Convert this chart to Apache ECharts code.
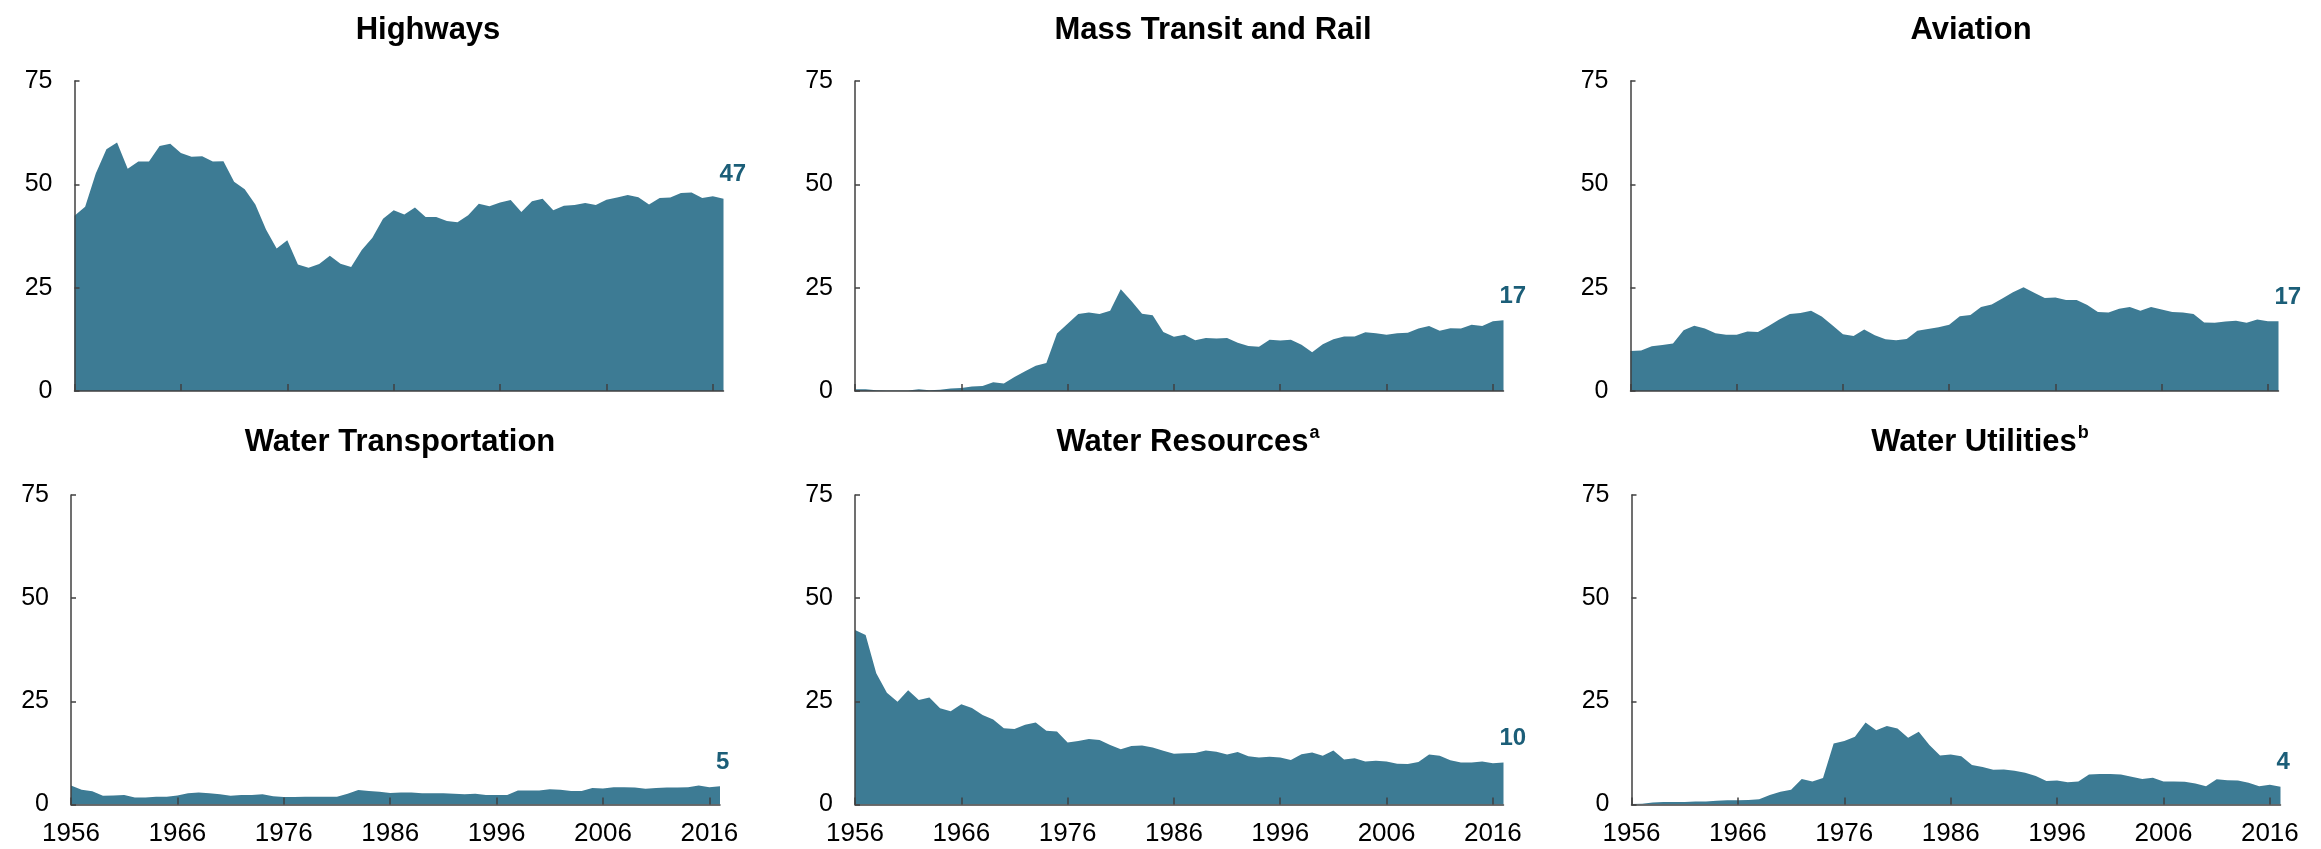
<!DOCTYPE html>
<html>
<head>
<meta charset="utf-8">
<script src="https://cdn.jsdelivr.net/npm/echarts@6/dist/echarts.min.js"></script>
<style>
  html, body { margin: 0; padding: 0; background: #fff; }
  #chart { width: 2321px; height: 849px; }
</style>
</head>
<body>
<div id="chart"></div>
<script>
// years on the x axis, 1956 .. 2017
const years = []
for (let y = 1956; y <= 2017; y++) years.push(String(y))

const highways = [42.4, 44.6, 52.6, 58.5, 60.1, 53.8, 55.5, 55.5, 59.3, 59.8,
  57.6, 56.7, 56.8, 55.5, 55.6, 50.6, 48.8, 45.1, 39.1, 34.5,
  36.5, 30.6, 29.8, 30.7, 32.7, 30.8, 30.0, 34.1, 37.1, 41.7,
  43.7, 42.7, 44.4, 42.1, 42.1, 41.1, 40.8, 42.5, 45.3, 44.7,
  45.6, 46.2, 43.3, 45.9, 46.5, 43.7, 44.8, 45.0, 45.5, 45.0,
  46.3, 46.8, 47.4, 46.9, 45.1, 46.7, 46.8, 47.9, 48.0, 46.7,
  47.1, 46.5]

const massTransit = [0.4, 0.4, 0.2, 0.1, 0.1, 0.1, 0.4, 0.2, 0.3, 0.6,
  0.7, 1.1, 1.2, 2.1, 1.8, 3.4, 4.8, 6.1, 6.8, 13.9,
  16.3, 18.6, 19.0, 18.6, 19.4, 24.6, 21.8, 18.7, 18.3, 14.3,
  13.1, 13.6, 12.3, 12.8, 12.7, 12.8, 11.7, 10.9, 10.7, 12.4,
  12.2, 12.4, 11.2, 9.4, 11.3, 12.5, 13.2, 13.2, 14.2, 14.0,
  13.6, 14.0, 14.1, 15.1, 15.7, 14.6, 15.2, 15.1, 16.0, 15.7,
  16.9, 17.1]

const aviation = [9.7, 9.8, 10.8, 11.1, 11.5, 14.7, 15.8, 15.1, 14.0, 13.6,
  13.6, 14.4, 14.3, 15.7, 17.3, 18.6, 18.9, 19.4, 18.0, 15.9,
  13.7, 13.3, 14.9, 13.5, 12.5, 12.3, 12.6, 14.6, 15.0, 15.4,
  16.0, 18.1, 18.4, 20.3, 20.9, 22.4, 23.9, 25.1, 23.8, 22.5,
  22.6, 22.0, 22.0, 20.8, 19.1, 19.0, 19.9, 20.3, 19.4, 20.3,
  19.7, 19.1, 19.0, 18.6, 16.6, 16.5, 16.8, 17.0, 16.5, 17.3,
  16.9, 16.9]

const waterTransport = [4.6, 3.6, 3.2, 2.1, 2.2, 2.3, 1.7, 1.7, 1.9, 1.9,
  2.2, 2.7, 2.9, 2.7, 2.5, 2.1, 2.3, 2.3, 2.5, 2.0,
  1.8, 1.8, 1.9, 1.9, 1.9, 1.9, 2.6, 3.5, 3.3, 3.1,
  2.8, 2.9, 2.9, 2.7, 2.7, 2.7, 2.6, 2.5, 2.6, 2.3,
  2.3, 2.3, 3.4, 3.4, 3.4, 3.7, 3.6, 3.3, 3.3, 4.0,
  3.9, 4.2, 4.2, 4.1, 3.8, 4.0, 4.1, 4.1, 4.2, 4.6,
  4.2, 4.4]

const waterResources = [42.3, 41.1, 31.8, 27.1, 24.9, 27.7, 25.3, 25.9, 23.3, 22.6,
  24.3, 23.4, 21.7, 20.6, 18.5, 18.3, 19.3, 19.9, 17.9, 17.7,
  15.0, 15.4, 15.9, 15.6, 14.4, 13.4, 14.2, 14.3, 13.8, 13.0,
  12.3, 12.4, 12.5, 13.1, 12.8, 12.1, 12.7, 11.7, 11.4, 11.6,
  11.4, 10.8, 12.2, 12.6, 11.8, 13.1, 10.9, 11.2, 10.4, 10.6,
  10.4, 9.9, 9.8, 10.3, 12.1, 11.8, 10.7, 10.2, 10.2, 10.4,
  10.0, 10.2]

const waterUtilities = [0.1, 0.2, 0.5, 0.6, 0.6, 0.6, 0.7, 0.7, 0.9, 1.0,
  1.0, 1.1, 1.3, 2.3, 3.1, 3.6, 6.2, 5.6, 6.4, 14.8,
  15.4, 16.4, 19.9, 18.0, 19.0, 18.4, 16.2, 17.6, 14.4, 11.9,
  12.1, 11.7, 9.6, 9.1, 8.4, 8.5, 8.2, 7.7, 6.9, 5.7,
  5.8, 5.4, 5.6, 7.3, 7.4, 7.4, 7.3, 6.7, 6.2, 6.5,
  5.6, 5.6, 5.5, 5.1, 4.4, 6.1, 5.9, 5.8, 5.3, 4.4,
  4.8, 4.3]

const titles = ['{t|Highways}', '{t|Mass Transit and Rail}', '{t|Aviation}',
  '{t|Water Transportation}', '{t|Water Resources}{sup|a}', '{t|Water Utilities}{sup|b}']
const endLabels = ['47', '17', '17', '5', '10', '4']
const allSeries = [highways, massTransit, aviation, waterTransport, waterResources, waterUtilities]

// panel boxes: [left, top, width, height, titleCenterX, titleTop]
const panels = [
  [74.5, 81, 649, 310, 423, 7],
  [855, 81, 648.5, 310, 1208, 7],
  [1630.5, 81, 648, 310, 1966, 7],
  [71, 495, 649, 309.5, 395, 419],
  [855, 495, 648.5, 309.5, 1183, 419],
  [1631.5, 495, 649, 309.5, 1975, 419]
]

const FONT = "'Liberation Sans', Arial, sans-serif"
const AREA = '#3d7b94'
const AXIS = '#404040'
const LABEL = '#1b5e78'

const chart = echarts.init(document.getElementById('chart'))

const grid = [], xAxis = [], yAxis = [], series = [], title = []
panels.forEach((p, i) => {
  grid.push({ left: p[0], top: p[1], width: p[2], height: p[3], containLabel: false })
  title.push({
    text: titles[i],
    left: p[4],
    top: p[5],
    textAlign: 'center',
    textStyle: {
      rich: {
        t: { fontFamily: FONT, fontSize: 31, fontWeight: 'bold', color: '#000', lineHeight: 36 },
        sup: { fontFamily: FONT, fontSize: 18, fontWeight: 'bold', color: '#000', verticalAlign: 'top', lineHeight: 36, padding: [0, 0, 0, 1] }
      }
    }
  })
  xAxis.push({
    type: 'category',
    gridIndex: i,
    data: years,
    boundaryGap: false,
    z: 5,
    axisLine: { show: true, lineStyle: { color: AXIS, width: 1.5 } },
    axisTick: {
      show: true, inside: true, length: 7,
      interval: (idx) => idx % 10 === 0,
      lineStyle: { color: AXIS, width: 1.5 }
    },
    axisLabel: {
      show: i >= 3,
      interval: (idx) => idx % 10 === 0,
      fontFamily: FONT, fontSize: 26, color: '#000', margin: 16
    },
    splitLine: { show: false }
  })
  yAxis.push({
    type: 'value',
    gridIndex: i,
    min: 0, max: 75, interval: 25,
    z: 5,
    axisLine: { show: true, lineStyle: { color: AXIS, width: 1.5 } },
    axisTick: { show: true, inside: true, length: 5, lineStyle: { color: AXIS, width: 1.5 } },
    axisLabel: { fontFamily: FONT, fontSize: 25, color: '#000', margin: 22 },
    splitLine: { show: false }
  })
  const vals = allSeries[i]
  const data = vals.map((v, k) => k === vals.length - 1
    ? {
        value: v,
        label: {
          show: true,
          position: 'top',
          align: 'left',
          distance: 12,
          offset: [-4, 0],
          formatter: endLabels[i],
          fontFamily: FONT, fontSize: 24, fontWeight: 'bold', color: LABEL
        }
      }
    : v)
  series.push({
    type: 'line',
    xAxisIndex: i,
    yAxisIndex: i,
    data: data,
    symbol: 'circle',
    symbolSize: 0,
    showSymbol: true,
    lineStyle: { width: 0, color: AREA },
    itemStyle: { color: AREA },
    areaStyle: { color: AREA, opacity: 1 },
    label: { show: false },
    silent: true,
    animation: false,
    z: 1
  })
})

chart.setOption({
  backgroundColor: '#fff',
  animation: false,
  title: title,
  grid: grid,
  xAxis: xAxis,
  yAxis: yAxis,
  series: series
})
</script>
</body>
</html>
